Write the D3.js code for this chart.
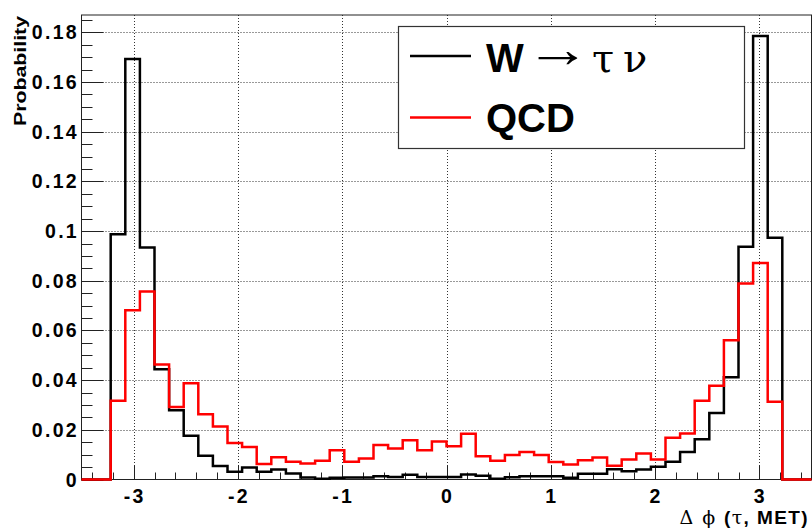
<!DOCTYPE html>
<html>
<head>
    <title>Delta phi (tau, MET)</title>
    <script src="https://d3js.org/d3.v7.min.js"></script>
    <style>
        body { margin: 0; background: #fff; }
        .tick-label { font-family: "Liberation Sans", Arial, sans-serif; font-weight: bold; font-size: 19.5px; letter-spacing: 2.3px; }
        .greek { font-family: "DejaVu Serif", "Liberation Serif", serif; font-weight: normal; }
    </style>
</head>
<body>
    <div id="chart"></div>

    <script>
        // histogram: 50 bins from -3.5 to 3.5
        const binStart = -3.5;
        const binWidth = 0.14;

        const wTauNu = [
            0, 0, 0.0987, 0.1693, 0.0934, 0.0444, 0.0279, 0.0176, 0.0096, 0.0054,
            0.0031, 0.0048, 0.0031, 0.0040, 0.0024, 0.0008, 0.0003, 0.0007, 0.0008, 0.0008,
            0.0013, 0.0010, 0.0019, 0.0010, 0.0010, 0.0010, 0.0020, 0.0015, 0.0003, 0.0009,
            0.0013, 0.0013, 0.0013, 0.0007, 0.0023, 0.0023, 0.0041, 0.0033, 0.0040, 0.0051,
            0.0071, 0.0111, 0.0162, 0.0268, 0.0412, 0.0937, 0.1785, 0.0973, 0, 0
        ];

        const qcd = [
            0, 0, 0.0317, 0.0681, 0.0757, 0.0463, 0.0292, 0.0387, 0.0263, 0.0213,
            0.0147, 0.0131, 0.0062, 0.0090, 0.0071, 0.0064, 0.0075, 0.0118, 0.0071, 0.0085,
            0.0139, 0.0125, 0.0158, 0.0118, 0.0153, 0.0134, 0.0184, 0.0094, 0.0075, 0.0099,
            0.0111, 0.0099, 0.0070, 0.0060, 0.0078, 0.0089, 0.0055, 0.0081, 0.0105, 0.0081,
            0.0168, 0.0185, 0.0317, 0.0377, 0.0561, 0.0789, 0.0872, 0.0313, 0, 0
        ];

        const xTicks = [-3, -2, -1, 0, 1, 2, 3];
        const xMinorTicks = d3.range(-34, 35, 2).map(d => d / 10);
        const yTicks = [0, 0.02, 0.04, 0.06, 0.08, 0.1, 0.12, 0.14, 0.16, 0.18];
        const yMinorTicks = d3.range(0, 186, 5).map(d => d / 1000);
        const yTickLabels = ["0", "0.02", "0.04", "0.06", "0.08", "0.1", "0.12", "0.14", "0.16", "0.18"];

        const width = 812;
        const height = 531;
        const frameColor = "#222";

        const svg = d3.select("#chart")
            .append("svg")
            .attr("width", width)
            .attr("height", height);

        const xScale = d3.scaleLinear()
            .domain([-3.5, 3.5])
            .range([81.5, 811.5]);

        const yScale = d3.scaleLinear()
            .domain([0, 0.187])
            .range([479.5, 15]);

        // grid
        svg.selectAll(".grid-x")
            .data(xTicks)
            .enter()
            .append("line")
            .attr("x1", d => Math.round(xScale(d)) + 0.5)
            .attr("x2", d => Math.round(xScale(d)) + 0.5)
            .attr("y1", yScale(0.187))
            .attr("y2", yScale(0))
            .style("stroke", "#333")
            .style("stroke-dasharray", "1,2");

        svg.selectAll(".grid-y")
            .data(yTicks.slice(1))
            .enter()
            .append("line")
            .attr("x1", xScale(-3.5))
            .attr("x2", xScale(3.5))
            .attr("y1", d => Math.round(yScale(d)) + 0.5)
            .attr("y2", d => Math.round(yScale(d)) + 0.5)
            .style("stroke", "#333")
            .style("stroke-dasharray", "1,2");

        // frame
        svg.append("rect")
            .attr("x", xScale(-3.5))
            .attr("y", yScale(0.187))
            .attr("width", xScale(3.5) - xScale(-3.5))
            .attr("height", yScale(0) - yScale(0.187))
            .style("fill", "none")
            .style("stroke", frameColor)
            .style("stroke-width", 1);

        // y ticks
        svg.selectAll(".ytick")
            .data(yMinorTicks)
            .enter()
            .append("line")
            .attr("x1", xScale(-3.5))
            .attr("x2", d => xScale(-3.5) + (yTicks.some(t => Math.abs(t - d) < 1e-9) ? 22 : 11))
            .attr("y1", d => Math.round(yScale(d)) + 0.5)
            .attr("y2", d => Math.round(yScale(d)) + 0.5)
            .style("stroke", frameColor);

        // x ticks
        svg.selectAll(".xtick")
            .data(xMinorTicks)
            .enter()
            .append("line")
            .attr("x1", d => Math.round(xScale(d)) + 0.5)
            .attr("x2", d => Math.round(xScale(d)) + 0.5)
            .attr("y1", yScale(0))
            .attr("y2", d => yScale(0) - (xTicks.some(t => Math.abs(t - d) < 1e-9) ? 14 : 7))
            .style("stroke", frameColor);

        // tick labels
        svg.selectAll(".ylabel")
            .data(yTicks)
            .enter()
            .append("text")
            .attr("class", "tick-label")
            .attr("x", 79)
            .attr("y", d => yScale(d))
            .attr("dy", "0.36em")
            .attr("text-anchor", "end")
            .text((d, i) => yTickLabels[i]);

        svg.selectAll(".xlabel")
            .data(xTicks)
            .enter()
            .append("text")
            .attr("class", "tick-label")
            .attr("x", d => xScale(d) + 1)
            .attr("y", 503)
            .attr("text-anchor", "middle")
            .text(d => d);

        // axis titles
        svg.append("text")
            .attr("transform", "translate(26,16) rotate(-90)")
            .attr("text-anchor", "end")
            .attr("font-family", "Liberation Sans, Arial, sans-serif")
            .attr("font-weight", "bold")
            .attr("font-size", 16)
            .attr("textLength", 110)
            .attr("lengthAdjust", "spacingAndGlyphs")
            .text("Probability");

        const xTitle = svg.append("text")
            .attr("x", 809)
            .attr("y", 524)
            .attr("text-anchor", "end")
            .attr("font-family", "Liberation Sans, Arial, sans-serif")
            .attr("font-weight", "bold")
            .attr("font-size", 19)
            .attr("letter-spacing", "1.4px");
        xTitle.append("tspan").attr("class", "greek").text("\u0394 \u03d5 ");
        xTitle.append("tspan").text("(");
        xTitle.append("tspan").attr("class", "greek").text("\u03c4");
        xTitle.append("tspan").text(", MET)");

        // histograms
        function stepPath(values) {
            const p = d3.path();
            p.moveTo(xScale(binStart), yScale(values[0]));
            values.forEach((v, i) => {
                const x0 = xScale(binStart + i * binWidth);
                const x1 = xScale(binStart + (i + 1) * binWidth);
                p.lineTo(x0, yScale(v));
                p.lineTo(x1, yScale(v));
            });
            return p.toString();
        }

        svg.append("path")
            .attr("d", stepPath(wTauNu))
            .style("fill", "none")
            .style("stroke", "#000")
            .style("stroke-width", 2.5);

        svg.append("path")
            .attr("d", stepPath(qcd))
            .style("fill", "none")
            .style("stroke", "#ff0000")
            .style("stroke-width", 2.5);

        // legend
        svg.append("rect")
            .attr("x", 398.5)
            .attr("y", 26.5)
            .attr("width", 346)
            .attr("height", 122)
            .style("fill", "#fff")
            .style("stroke", "#333")
            .style("stroke-width", 1.2);

        const legend = [
            { color: "#000", y: 56 },
            { color: "#ff0000", y: 117.5 }
        ];

        svg.selectAll(".legend-line")
            .data(legend)
            .enter()
            .append("line")
            .attr("x1", 410)
            .attr("x2", 471)
            .attr("y1", d => d.y)
            .attr("y2", d => d.y)
            .style("stroke", d => d.color)
            .style("stroke-width", 2.5);

        const wText = svg.append("text")
            .attr("x", 486)
            .attr("y", 71.5)
            .attr("font-family", "Liberation Sans, Arial, sans-serif")
            .attr("font-size", 40);
        wText.append("tspan").attr("font-weight", "bold").text("W");
        wText.append("tspan").attr("class", "greek").attr("x", 592).text("\u03c4");
        wText.append("tspan").attr("class", "greek").attr("x", 623).text("\u03bd");

        // thin, long arrow like the Symbol font one
        svg.append("text")
            .attr("transform", "translate(525,66.5) scale(1.63,1.3)")
            .attr("font-family", "Liberation Serif, serif")
            .attr("font-size", 40)
            .text("\u2192");

        svg.append("text")
            .attr("x", 486)
            .attr("y", 132)
            .attr("font-family", "Liberation Sans, Arial, sans-serif")
            .attr("font-weight", "bold")
            .attr("font-size", 40)
            .text("QCD");
    </script>
</body>
</html>
